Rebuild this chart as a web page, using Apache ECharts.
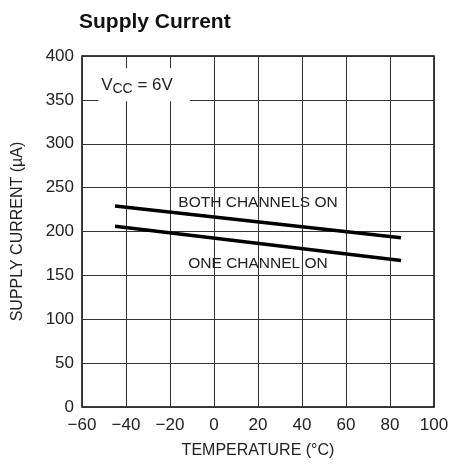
<!DOCTYPE html>
<html><head><meta charset="utf-8">
<script src="https://cdn.jsdelivr.net/npm/echarts@6/dist/echarts.min.js"></script>
<style>html,body{margin:0;padding:0;background:#fff}#c{width:453px;height:468px}</style>
</head><body><div id="c"></div>
<script>
const FONT = "'Liberation Sans Narrow','Arial Narrow','Liberation Sans',sans-serif";
const temps = [-45, 85];
const bothChannels = [229, 193];
const oneChannel = [206, 167];
const xTicks = [-60, -40, -20, 0, 20, 40, 60, 80, 100];
const yTicks = [0, 50, 100, 150, 200, 250, 300, 350, 400];
const title = 'Supply Current';
const xName = 'TEMPERATURE (°C)';
const yName = 'SUPPLY CURRENT (µA)';

const chart = echarts.init(document.getElementById('c'), null, {renderer: 'canvas'});
chart.setOption({
  animation: false,
  backgroundColor: '#fff',
  title: {text: title, left: 74, top: 7, textStyle: {fontFamily: FONT, fontWeight: 'bold', fontSize: 21, color: '#111'}},
  grid: {left: 82, right: 19, top: 56, bottom: 61, show: true, borderColor: '#000', borderWidth: 1.5},
  xAxis: {
    type: 'value', min: -60, max: 100, interval: 20,
    name: xName, nameLocation: 'middle', nameGap: 36,
    nameTextStyle: {fontFamily: FONT, fontSize: 16, color: '#222'},
    axisLine: {show: false}, axisTick: {show: false},
    axisLabel: {fontFamily: FONT, fontSize: 17, color: '#222', margin: 10,
      formatter: v => (v < 0 ? '\u2212' + Math.abs(v) : String(v))},
    splitLine: {lineStyle: {color: '#333', width: 1}}
  },
  yAxis: {
    type: 'value', min: 0, max: 400, interval: 50,
    name: yName, nameLocation: 'middle', nameGap: 56,
    nameTextStyle: {fontFamily: FONT, fontSize: 16, color: '#222'},
    axisLine: {show: false}, axisTick: {show: false},
    axisLabel: {fontFamily: FONT, fontSize: 17, color: '#222', margin: 8},
    splitLine: {lineStyle: {color: '#333', width: 1}}
  },
  series: [
    {type: 'line', data: temps.map((t, i) => [t, bothChannels[i]]), symbol: 'none',
     lineStyle: {color: '#000', width: 3.5}, z: 3,
     markArea: {silent: true, itemStyle: {color: '#fff'}, data: [[{coord: [-52.5, 386]}, {coord: [-11, 348.5]}]]},
     markPoint: {symbol: 'circle', symbolSize: 0, data: [
       {coord: [20, 233], label: {show: true, formatter: 'BOTH CHANNELS ON', fontFamily: FONT, fontSize: 15.5, color: '#222'}},
       {coord: [-35, 367], label: {show: true, formatter: '{v|V}{s|CC}{v| = 6V}', rich: {
         v: {fontFamily: FONT, fontSize: 17, color: '#222'},
         s: {fontFamily: FONT, fontSize: 14, color: '#222', verticalAlign: 'bottom', padding: [8, 0, 0, 0]}}}}
     ]}},
    {type: 'line', data: temps.map((t, i) => [t, oneChannel[i]]), symbol: 'none',
     lineStyle: {color: '#000', width: 3.5}, z: 3,
     markPoint: {symbol: 'circle', symbolSize: 0, data: [
       {coord: [20, 163], label: {show: true, formatter: 'ONE CHANNEL ON', fontFamily: FONT, fontSize: 15.5, color: '#222'}}
     ]}}
  ]
});
</script></body></html>
